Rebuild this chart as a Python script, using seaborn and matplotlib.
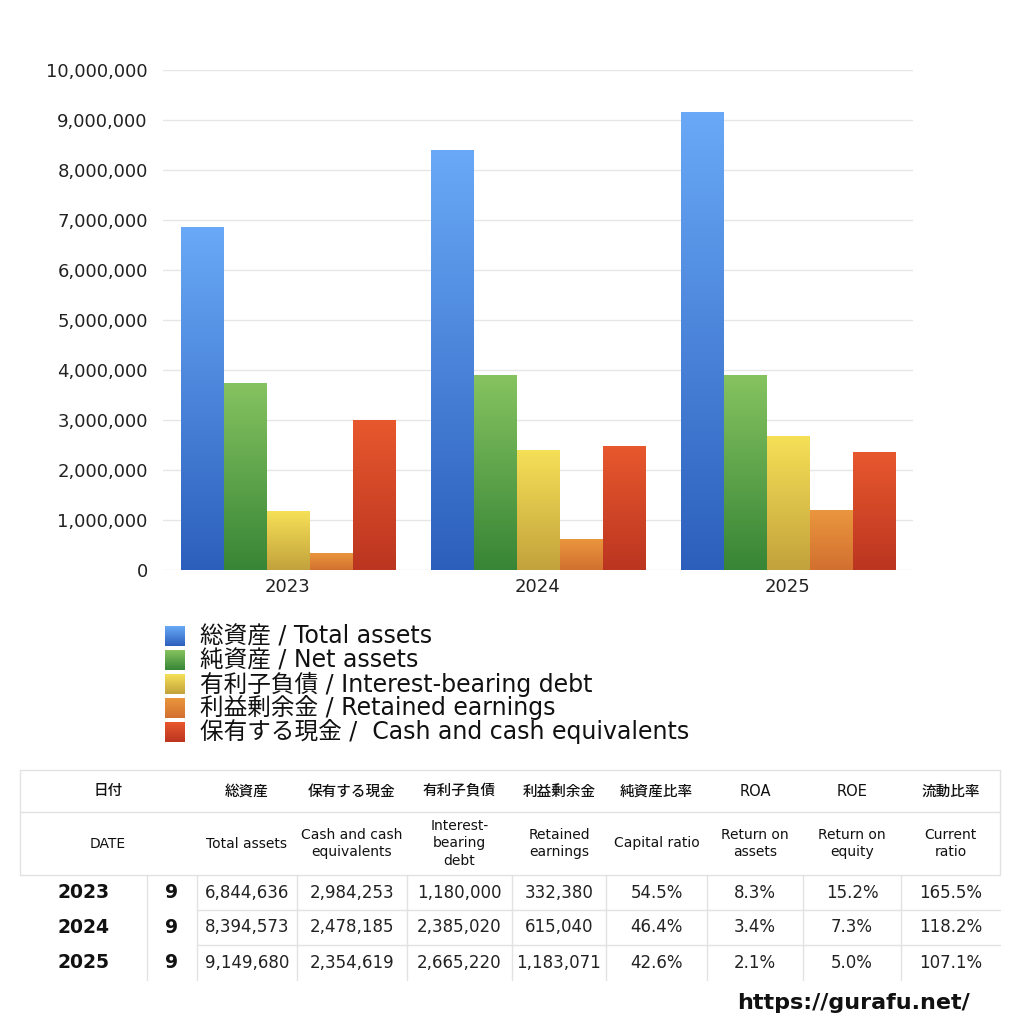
import numpy as np
import pandas as pd
import matplotlib
matplotlib.use('Agg')
import matplotlib.pyplot as plt
import seaborn as sns
from matplotlib.colors import LinearSegmentedColormap
from matplotlib.ticker import FuncFormatter

years = ['2023', '2024', '2025']
months = ['9', '9', '9']
total_assets = [6844636, 8394573, 9149680]
net_assets = [3730000, 3895000, 3898000]
debt = [1180000, 2385020, 2665220]
retained = [332380, 615040, 1183071]
cash = [2984253, 2478185, 2354619]
capital_ratio = ['54.5%', '46.4%', '42.6%']
roa = ['8.3%', '3.4%', '2.1%']
roe = ['15.2%', '7.3%', '5.0%']
current_ratio = ['165.5%', '118.2%', '107.1%']

series_labels = ['総資産 / Total assets', '純資産 / Net assets',
                 '有利子負債 / Interest-bearing debt', '利益剰余金 / Retained earnings',
                 '保有する現金 /  Cash and cash equivalents']
series_values = [total_assets, net_assets, debt, retained, cash]
top_colors = ['#69a9f7', '#86c360', '#f6e057', '#ea963e', '#e8582e']
bottom_colors = ['#2c5fbc', '#378536', '#c2a23c', '#d2702f', '#bb3520']

hdr_jp = ['総資産', '保有する現金', '有利子負債', '利益剰余金', '純資産比率', 'ROA', 'ROE', '流動比率']
hdr_en = ['Total assets', 'Cash and cash\nequivalents', 'Interest-\nbearing\ndebt',
          'Retained\nearnings', 'Capital ratio', 'Return on\nassets', 'Return on\nequity',
          'Current\nratio']

sns.set_theme(style='white')
plt.rcParams['font.family'] = ['DejaVu Sans', 'Noto Sans CJK JP']


def gradient_fill(ax, x0, x1, y0, y1, top, bottom):
    # y0 = bottom edge, y1 = top edge (data coords)
    cmap = LinearSegmentedColormap.from_list('g', [bottom, top])
    grad = np.linspace(0, 1, 256).reshape(-1, 1)
    ax.imshow(grad, cmap=cmap, extent=(x0, x1, y0, y1), origin='lower',
              aspect='auto', zorder=3, interpolation='bilinear')


rows = []
for label, vals in zip(series_labels, series_values):
    for y, v in zip(years, vals):
        rows.append({'year': y, 'series': label, 'value': v})
df = pd.DataFrame(rows)

fig = plt.figure(figsize=(10.24, 10.24), dpi=100)
ax = fig.add_axes([163 / 1024, 1 - 570 / 1024, 750 / 1024, 500 / 1024])
sns.barplot(data=df, x='year', y='value', hue='series', hue_order=series_labels,
            palette=top_colors, width=0.86, gap=0, saturation=1, legend=False, ax=ax)

# replace flat bars by vertical gradients
n = len(years)
for i, p in enumerate(list(ax.patches)):
    si = i // n
    x0 = p.get_x()
    gradient_fill(ax, x0, x0 + p.get_width(), 0, p.get_height(),
                  top_colors[si], bottom_colors[si])
    p.set_visible(False)

ax.set_xlim(-0.5, 2.5)
ax.set_ylim(0, 10_000_000)
ax.set_yticks(range(0, 10_000_001, 1_000_000))
ax.yaxis.set_major_formatter(FuncFormatter(lambda v, _: f'{int(v):,}'))
ax.grid(axis='y', color='#e6e6e6', lw=1)
ax.set_axisbelow(True)
for s in ax.spines.values():
    s.set_visible(False)
ax.tick_params(axis='y', length=0, pad=11, labelsize=13, colors='#222222')
ax.tick_params(axis='x', length=0, pad=6, labelsize=13, colors='#222222')
ax.set_xlabel('')
ax.set_ylabel('')

# overlay in pixel coordinates for legend, table and url
ov = fig.add_axes([0, 0, 1, 1])
ov.axis('off')

for i, label in enumerate(series_labels):
    yc = 636 + 24 * i
    gradient_fill(ov, 165, 185, yc + 10, yc - 10, top_colors[i], bottom_colors[i])
    ov.text(200, yc, label, fontsize=17, va='center', color='#111111')

# table
line_c = '#e2e2e2'
col_edges = [20, 147, 197, 297, 407, 512, 606, 707, 803, 901, 1000]
for yy in [770, 812, 875]:
    ov.plot([20, 1000], [yy, yy], color=line_c, lw=1)
for yy in [910, 945]:
    ov.plot([197, 1000], [yy, yy], color=line_c, lw=1)
for xx in [20, 1000]:
    ov.plot([xx, xx], [770, 875], color=line_c, lw=1)
for xx in col_edges[1:-1]:
    ov.plot([xx, xx], [875, 980], color=line_c, lw=1)

ov.text(108, 791, '日付', ha='center', va='center', fontsize=10.5, weight='medium', color='#111111')
ov.text(108, 843.5, 'DATE', ha='center', va='center', fontsize=10, weight='medium', color='#111111')
for j in range(len(hdr_jp)):
    xc = (col_edges[j + 2] + col_edges[j + 3]) / 2
    ov.text(xc, 791, hdr_jp[j], ha='center', va='center', fontsize=10.5,
            weight='medium', color='#111111')
    ov.text(xc, 843.5, hdr_en[j], ha='center', va='center', fontsize=10,
            weight='medium', color='#111111', linespacing=1.3)

value_cols = [[f'{v:,}' for v in total_assets], [f'{v:,}' for v in cash],
              [f'{v:,}' for v in debt], [f'{v:,}' for v in retained],
              capital_ratio, roa, roe, current_ratio]
for r in range(len(years)):
    yc = 892.5 + 35 * r
    ov.text(83.5, yc, years[r], ha='center', va='center', fontsize=13.5, weight='bold', color='#111111')
    ov.text(172, yc, months[r], ha='center', va='center', fontsize=13.5, weight='bold', color='#111111')
    for j, col in enumerate(value_cols):
        xc = (col_edges[j + 2] + col_edges[j + 3]) / 2
        ov.text(xc, yc, col[r], ha='center', va='center', fontsize=12, color='#222222')

ov.text(970, 1003, 'https://gurafu.net/', ha='right', va='center', fontsize=16,
        weight='bold', color='#111111')

ov.set_xlim(0, 1024)
ov.set_ylim(1024, 0)

fig.savefig('out.png', dpi=100)
